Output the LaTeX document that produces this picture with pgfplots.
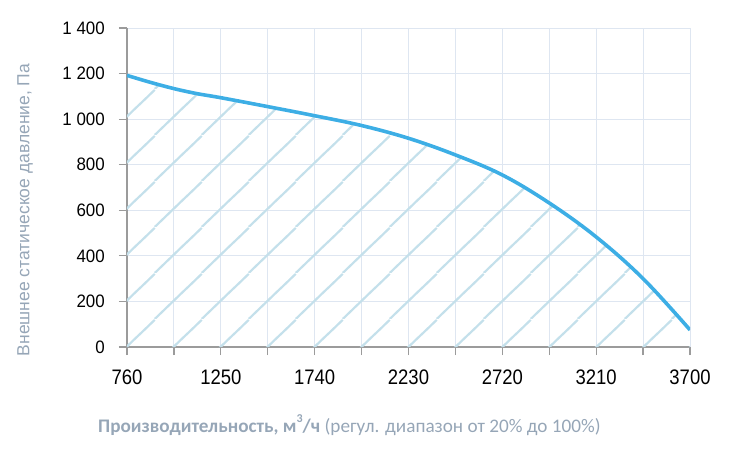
\documentclass[border=0pt]{standalone}
\usepackage{fontspec}
\setmainfont{Liberation Sans}
\newfontfamily\xtickfont{Liberation Sans}[FakeStretch=0.88]
\newfontfamily\ytickfont{Liberation Sans}[FakeStretch=0.94]
\newfontfamily\labfont{Carlito}
\newcommand\xl[1]{{\xtickfont\fontsize{21bp}{23bp}\selectfont #1}}
\newcommand\yl[1]{{\ytickfont\fontsize{18bp}{20bp}\selectfont #1}}
\usepackage{pgfplots}
\pgfplotsset{compat=1.18}
\usetikzlibrary{patterns}
\definecolor{curvec}{RGB}{61,174,229}
\definecolor{hatchc}{RGB}{196,224,235}
\definecolor{gridc}{RGB}{222,230,241}
\definecolor{axc}{RGB}{155,155,155}
\definecolor{labc}{RGB}{150,166,183}
\pgfdeclarepatternformonly{hatch}{\pgfpointorigin}{\pgfpoint{46.92bp}{45.57bp}}{\pgfpoint{46.92bp}{45.57bp}}{%
  \pgfsetlinewidth{2.2bp}%
  \pgfpathmoveto{\pgfpoint{14.77bp}{0bp}}\pgfpathlineto{\pgfpoint{61.69bp}{45.57bp}}%
  \pgfpathmoveto{\pgfpoint{-32.15bp}{0bp}}\pgfpathlineto{\pgfpoint{14.77bp}{45.57bp}}%
  \pgfusepath{stroke}}
\begin{document}
\begin{tikzpicture}
\useasboundingbox (-127bp,-109bp) rectangle (603bp,347bp);
\begin{axis}[
  at={(0,0)}, anchor=south west,
  scale only axis, width=563bp, height=319bp,
  xmin=760, xmax=3700, ymin=0, ymax=1400,
  axis x line*=bottom, axis y line*=left,
  axis line style={-, draw=axc, line width=1.2bp},
  xtick={760,1005,1250,1495,1740,1985,2230,2475,2720,2965,3210,3455,3700},
  xticklabels={\xl{760},{},\xl{1250},{},\xl{1740},{},\xl{2230},{},\xl{2720},{},\xl{3210},{},\xl{3700}},
  ytick={0,200,400,600,800,1000,1200,1400},
  yticklabels={\yl{0},\yl{200},\yl{400},\yl{600},\yl{800},\yl{1 000},\yl{1 200},\yl{1 400}},
  tick align=outside, major tick length=8bp,
  tick style={draw=axc, line width=1.2bp},
  grid=major, grid style={draw=gridc, line width=0.9bp},
  ticklabel style={text=black, inner sep=0pt},
  yticklabel style={anchor=east, xshift=-14bp},
  xticklabel style={anchor=north, yshift=-15bp},
  xlabel={\labfont\textbf{Производительность, м\raisebox{0.55em}{\fontsize{12bp}{12bp}\selectfont 3}/ч} (регул. диапазон от 20\% до 100\%)},
  xlabel style={at={(axis description cs:0.395,-0.2445)}, anchor=center, font=\fontsize{19.2bp}{22bp}\selectfont, text=labc, inner sep=0pt},
  ylabel={Внешнее статическое давление, Па},
  ylabel style={at={(axis description cs:-0.181,0.4295)}, anchor=center, font=\fontsize{17.5bp}{20bp}\selectfont, text=labc, inner sep=0pt},
]
\addplot[draw=none, pattern=hatch, pattern color=hatchc] table {
x y
760 1192
880 1162
1005 1134
1125 1112
1250 1094
1495 1055
1740 1015
1985 972
2230 916
2475 843
2720 755
2965 632
3210 483
3455 300
3700 75
} \closedcycle;
\addplot[curvec, line width=3.6bp, smooth, tension=0.6] table {
x y
760 1192
880 1162
1005 1134
1125 1112
1250 1094
1495 1055
1740 1015
1985 972
2230 916
2475 843
2720 755
2965 632
3210 483
3455 300
3700 75
};
\end{axis}
\end{tikzpicture}
\end{document}
